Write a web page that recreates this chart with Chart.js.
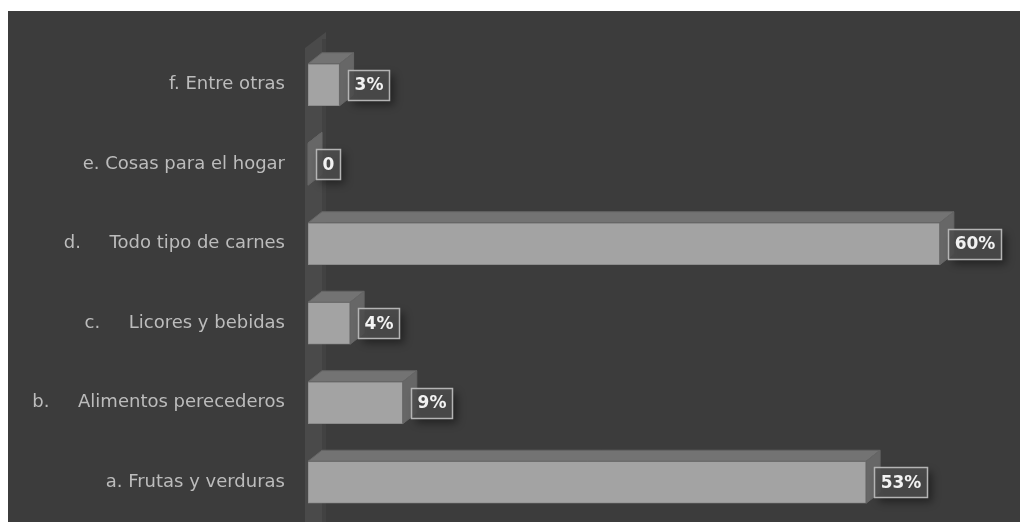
<!DOCTYPE html>
<html>
<head>
<meta charset="utf-8">
<script src="https://cdn.jsdelivr.net/npm/chart.js@4/dist/chart.umd.min.js"></script>
<style>
  html, body { margin: 0; padding: 0; background: #ffffff; }
  body { width: 1020px; height: 522px; overflow: hidden; position: relative; }
  #wrap { position: absolute; left: 8px; top: 11px; width: 1012px; height: 511px; background: #3c3c3c; }
  canvas { display: block; width: 1012px; height: 511px; }
</style>
</head>
<body>
<div id="wrap"><canvas id="chart" width="1012" height="511"></canvas></div>
<script>
// Categories, listed top to bottom
const categories = [
  'f. Entre otras',
  'e. Cosas para el hogar',
  'd.     Todo tipo de carnes',
  'c.     Licores y bebidas',
  'b.     Alimentos perecederos',
  'a. Frutas y verduras'
];
// Percent values per category
const values = [3, 0, 60, 4, 9, 53];

const DEPTH_X = 14;
const DEPTH_Y = 11;

function valueText(v) {
  return v === 0 ? '0' : v + '%';
}

// Back wall drawn behind the bars
const wallPlugin = {
  id: 'wall',
  beforeDatasetsDraw(chart) {
    const { ctx, chartArea } = chart;
    const x0 = chartArea.left - 3;
    const x1 = chartArea.left + DEPTH_X;
    ctx.save();
    ctx.fillStyle = '#4a4a4a';
    ctx.beginPath();
    ctx.moveTo(x0, chart.height);
    ctx.lineTo(x0, 37);
    ctx.lineTo(x1 + 4, 21);
    ctx.lineTo(x1 + 4, chart.height);
    ctx.closePath();
    ctx.fill();
    ctx.fillStyle = 'rgba(0,0,0,0.10)';
    ctx.fillRect(x1, 28, 4, chart.height);
    ctx.restore();
  }
};

// Top and side faces of each bar, then value boxes
const bar3dPlugin = {
  id: 'bar3d',
  afterDatasetsDraw(chart) {
    const { ctx } = chart;
    const meta = chart.getDatasetMeta(0);
    const data = chart.data.datasets[0].data;
    ctx.save();
    meta.data.forEach((bar) => {
      const top = bar.y - bar.height / 2;
      const bot = bar.y + bar.height / 2;
      const b = bar.base, e = bar.x;
      // top face
      ctx.fillStyle = '#737373';
      ctx.strokeStyle = '#666666';
      ctx.lineWidth = 1;
      ctx.beginPath();
      ctx.moveTo(b, top);
      ctx.lineTo(e, top);
      ctx.lineTo(e + DEPTH_X, top - DEPTH_Y);
      ctx.lineTo(b + DEPTH_X, top - DEPTH_Y);
      ctx.closePath();
      ctx.fill();
      ctx.stroke();
      // side face
      ctx.fillStyle = '#676767';
      ctx.beginPath();
      ctx.moveTo(e, top);
      ctx.lineTo(e + DEPTH_X, top - DEPTH_Y);
      ctx.lineTo(e + DEPTH_X, bot - DEPTH_Y);
      ctx.lineTo(e, bot);
      ctx.closePath();
      ctx.fill();
      ctx.stroke();
    });

    ctx.font = 'bold 17px "DejaVu Sans", sans-serif';
    ctx.textBaseline = 'middle';
    meta.data.forEach((bar, i) => {
      const txt = valueText(data[i]);
      const w = Math.round(ctx.measureText(txt).width) + 12;
      const h = 30;
      const x = Math.round(bar.x + 8) + 0.5;
      const y = Math.round(bar.y - h / 2) + 0.5;
      ctx.save();
      ctx.shadowColor = 'rgba(0,0,0,0.5)';
      ctx.shadowBlur = 8;
      ctx.shadowOffsetX = 4;
      ctx.shadowOffsetY = 4;
      ctx.fillStyle = 'rgba(78,78,78,0.85)';
      ctx.fillRect(x, y, w, h);
      ctx.restore();
      ctx.strokeStyle = '#b4b4b4';
      ctx.lineWidth = 1.5;
      ctx.strokeRect(x, y, w, h);
      ctx.fillStyle = '#f2f2f2';
      ctx.textAlign = 'center';
      ctx.fillText(txt, x + w / 2, bar.y + 1);
    });
    ctx.restore();
  }
};

new Chart(document.getElementById('chart'), {
  type: 'bar',
  data: {
    labels: categories,
    datasets: [{
      data: values,
      backgroundColor: '#a3a3a3',
      borderColor: '#8c8c8c',
      borderWidth: 1,
      barThickness: 42,
      borderSkipped: false
    }]
  },
  options: {
    indexAxis: 'y',
    responsive: false,
    maintainAspectRatio: false,
    animation: false,
    layout: { padding: { top: 34, right: 17, bottom: 0, left: 0 } },
    plugins: {
      legend: { display: false },
      tooltip: { enabled: false }
    },
    scales: {
      x: {
        display: false,
        min: 0,
        max: 66
      },
      y: {
        grid: { display: false, drawTicks: false },
        border: { display: false },
        ticks: {
          color: '#bcbcbc',
          padding: 23,
          font: { family: '"DejaVu Sans", sans-serif', size: 18 }
        },
        afterFit(scale) {
          scale.width = 300;
          scale.paddingTop = 0;
          scale.paddingBottom = 0;
        }
      }
    }
  },
  plugins: [wallPlugin, bar3dPlugin]
});
</script>
</body>
</html>
